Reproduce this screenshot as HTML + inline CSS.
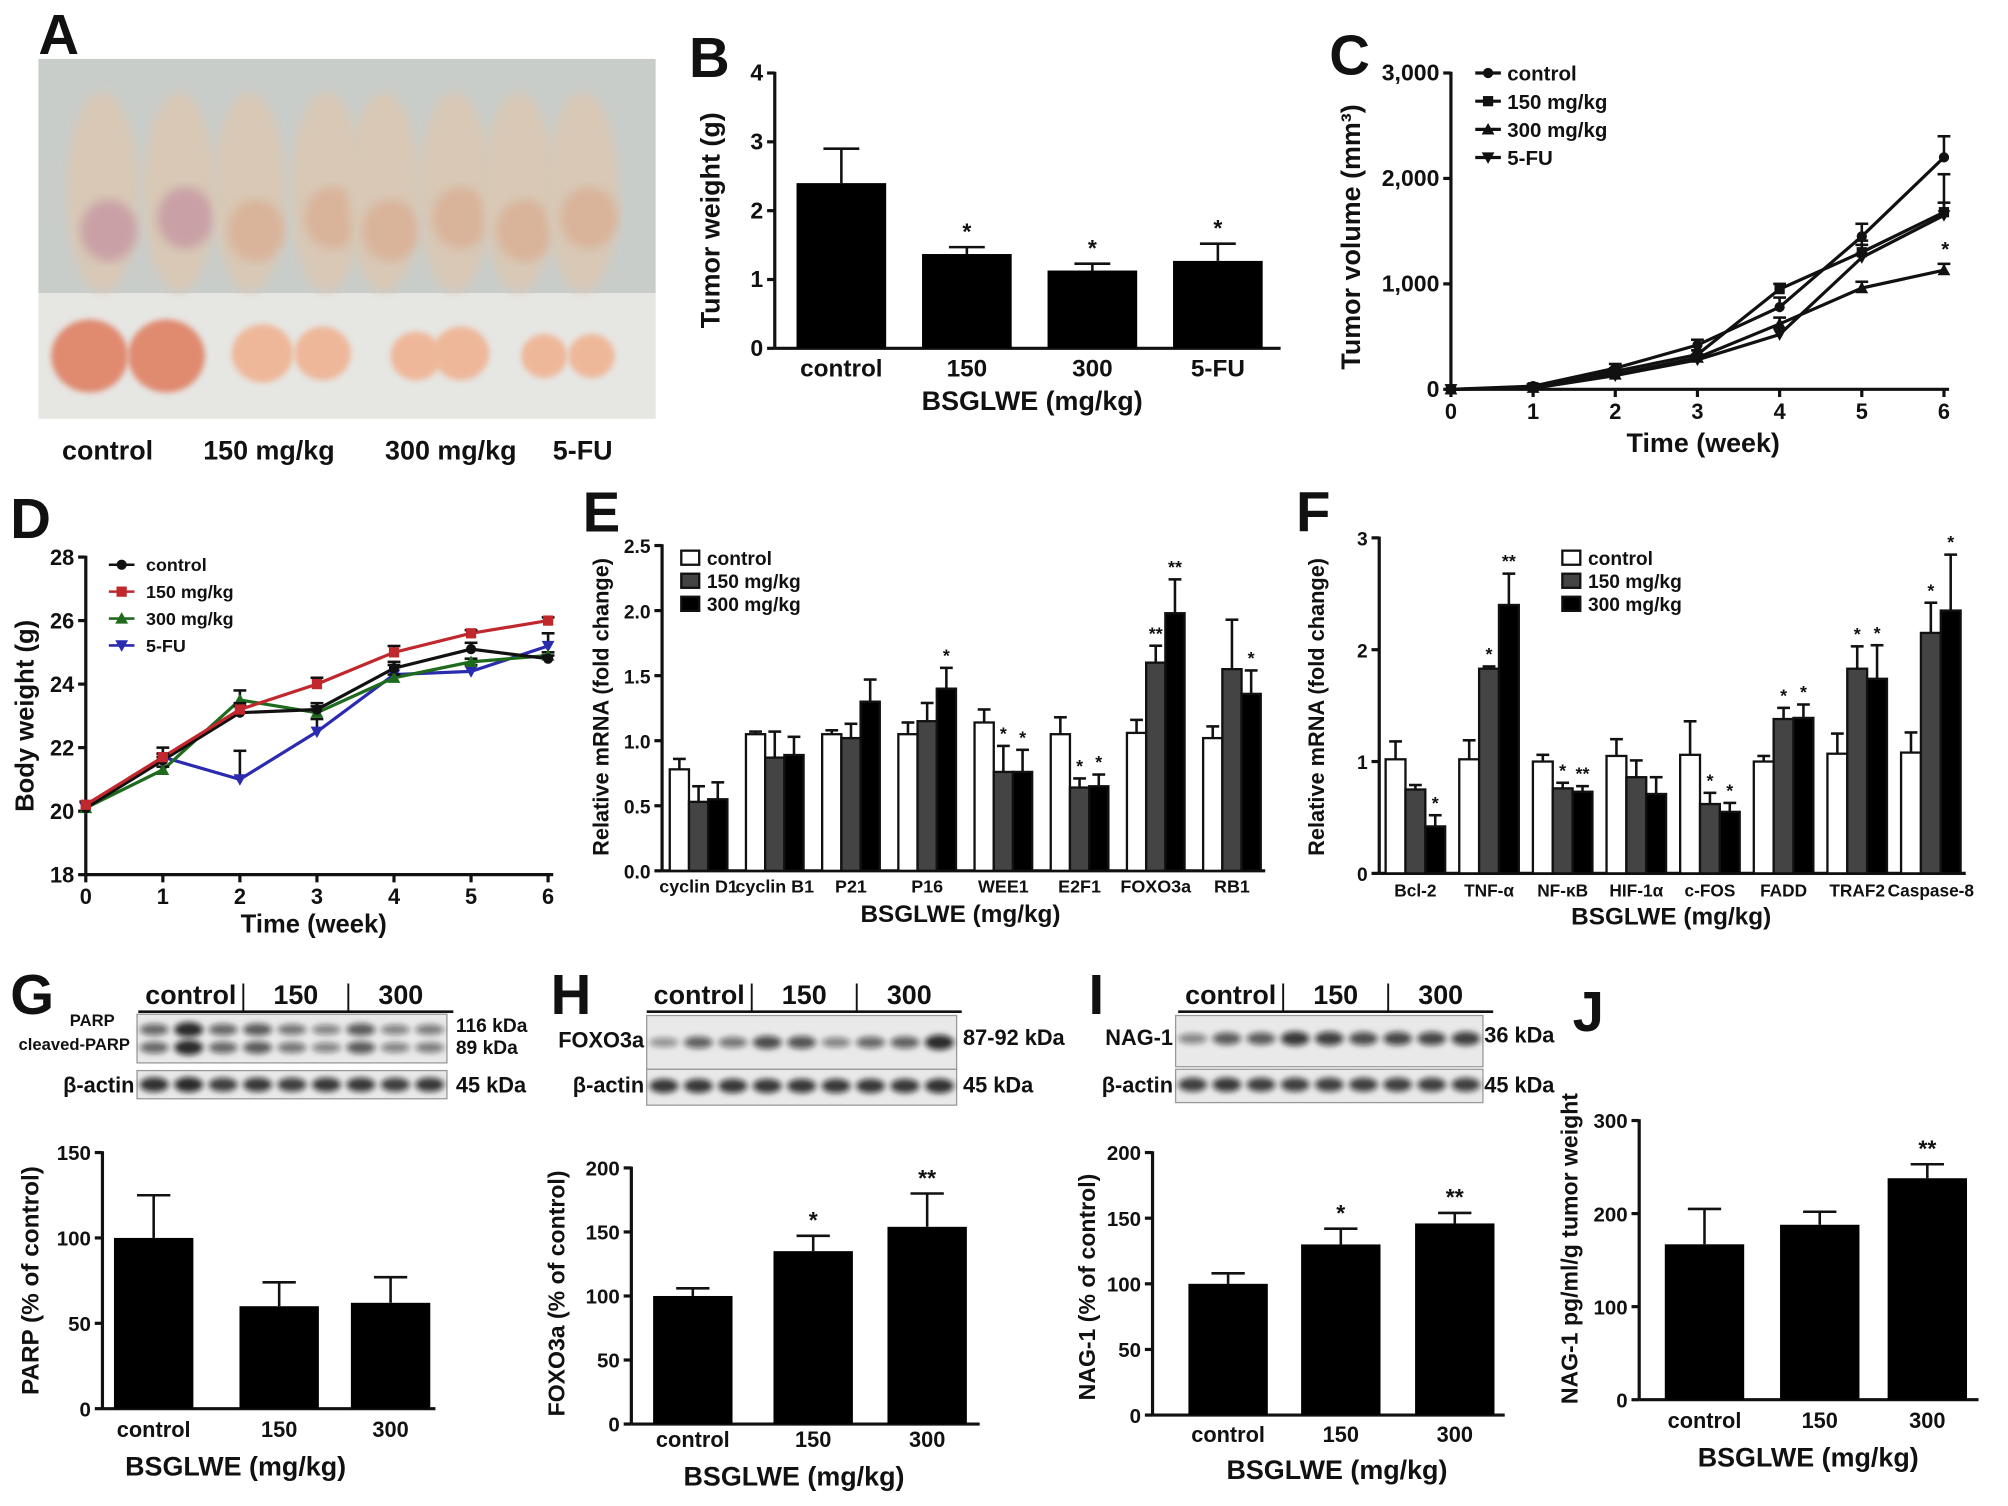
<!DOCTYPE html>
<html><head><meta charset="utf-8"><style>
html,body{margin:0;padding:0;background:#fff;}
svg{display:block;}
text{font-family:"Liberation Sans",Arial,sans-serif;font-weight:bold;fill:#111;}
</style></head><body>
<svg id="fig" xmlns="http://www.w3.org/2000/svg" width="2008" height="1506" viewBox="0 0 1568 1176">
<defs><filter id="blur" x="-50%" y="-50%" width="200%" height="200%"><feGaussianBlur stdDeviation="2.2"/></filter>
<filter id="blur2"><feGaussianBlur stdDeviation="4"/></filter></defs>
</svg>
<script>
// ---------- data ----------
const bCats=['control','150','300','5-FU'];
const bVals=[2.4,1.37,1.13,1.27];
const bErr=[0.5,0.1,0.1,0.25];
const bSig=['','*','*','*'];
const cWeeks=[0,1,2,3,4,5,6];
const cControl=[0,30,200,420,780,1450,2200];
const c150=[0,20,170,330,950,1300,1680];
const c300=[0,15,140,300,620,960,1130];
const c5fu=[0,10,130,280,520,1250,1650];
const cErrCtrl=[0,20,40,50,90,120,200];
const cErr150=[0,15,30,40,50,110,360];
const cErr300=[0,10,30,30,60,60,60];
const cErr5fu=[0,10,20,30,60,120,120];
const dWeeks=[0,1,2,3,4,5,6];
const dControl=[20.1,21.6,23.1,23.2,24.5,25.1,24.8];
const d150=[20.2,21.7,23.2,24.0,25.0,25.6,26.0];
const d300=[20.1,21.3,23.5,23.1,24.2,24.7,24.9];
const d5fu=[20.1,21.7,21.0,22.5,24.3,24.4,25.2];
const dErr5fu=[0.2,0.3,0.9,0.4,0.3,0.2,0.4];
const eGenes=['cyclin D1','cyclin B1','P21','P16','WEE1','E2F1','FOXO3a','RB1'];
const eCtrl=[0.78,1.05,1.05,1.05,1.14,1.05,1.06,1.02];
const e150=[0.53,0.87,1.02,1.15,0.76,0.64,1.6,1.55];
const e300=[0.55,0.89,1.3,1.4,0.76,0.65,1.98,1.36];
const eErrCtrl=[0.08,0.02,0.03,0.09,0.1,0.13,0.1,0.09];
const eErr150=[0.12,0.2,0.11,0.14,0.2,0.07,0.13,0.38];
const eErr300=[0.13,0.14,0.17,0.16,0.17,0.09,0.26,0.18];
const eSig150=['','','','','*','*','**',''];
const eSig300=['','','','*','*','*','**','*'];
const fGenes=['Bcl-2','TNF-α','NF-κB','HIF-1α','c-FOS','FADD','TRAF2','Caspase-8'];
const fCtrl=[1.02,1.02,1.0,1.05,1.06,1.0,1.07,1.08];
const f150=[0.75,1.83,0.76,0.86,0.62,1.38,1.83,2.15];
const f300=[0.42,2.4,0.73,0.71,0.55,1.39,1.74,2.35];
const fErrCtrl=[0.16,0.17,0.06,0.15,0.3,0.05,0.18,0.18];
const fErr150=[0.04,0.02,0.05,0.15,0.1,0.1,0.2,0.27];
const fErr300=[0.1,0.28,0.05,0.15,0.08,0.12,0.3,0.5];
const fSig150=['','*','*','','*','*','*','*'];
const fSig300=['*','**','**','','*','*','*','*'];
const gCats=['control','150','300'];
const gVals=[100,60,62];
const gErr=[25,14,15];
const hVals=[100,135,154];
const hErr=[6,12,26];
const hSig=['','*','**'];
const iVals=[100,130,146];
const iErr=[8,12,8];
const iSig=['','*','**'];
const jVals=[167,188,238];
const jErr=[38,14,15];
const jSig=['','','**'];

// ---------- helpers ----------
const NS='http://www.w3.org/2000/svg';
const svg=document.getElementById('fig');
function mk(tag,a,parent){const e=document.createElementNS(NS,tag);for(const k in a)e.setAttribute(k,a[k]);(parent||svg).appendChild(e);return e;}
function T(x,y,s,size,anchor,extra){const e=mk('text',Object.assign({x:x,y:y,'font-size':size,'text-anchor':anchor||'middle'},extra||{}));e.textContent=s;return e;}
function group(name){const g=mk('g',{});return g;}
function lin(v0,v1,p0,p1){return v=>p0+(v-v0)*(p1-p0)/(v1-v0);}
function line(x1,y1,x2,y2,w,parent){return mk('line',{x1:x1,y1:y1,x2:x2,y2:y2,stroke:'#111','stroke-width':w||2.5},parent);}

function yAxis(g,x,sy,ticks,fmt,size){
  const l=line(x,sy(ticks[0]),x,sy(ticks[ticks.length-1])-1,2.5,g);
  
  ticks.forEach(t=>{line(x-6,sy(t),x,sy(t),2.5,g);
    const tl=T(x-9,sy(t)+6,fmt(t),size||17,'end');
    });
}
function ytitle(x,y,s,size){const e=T(x,y,s,size||21,'middle',{transform:'rotate(-90 '+x+' '+y+')'});return e;}
function letter(x,y,s){const e=T(x,y,s,44,'start');return e;}
function errBar(g,x,y,len,w){line(x,y,x,y-len,2,g);line(x-w,y-len,x+w,y-len,2,g);}

// ---------- Panel A ----------
letter(30,42,'A');
(function(){
 const g=group('tumor-photo');
 mk('rect',{x:30,y:46,width:482,height:183,fill:'#c9cdca'},g);
 mk('rect',{x:30,y:229,width:482,height:98,fill:'#e6e6e3'},g);
 const mx=[80,140,195,255,300,355,405,455];
 mx.forEach((x,i)=>{mk('ellipse',{cx:x,cy:150,rx:28,ry:78,fill:'#d8c8b5',filter:'url(#blur2)'},g);
   mk('ellipse',{cx:x+5,cy:150+(i%2?20:30),rx:22,ry:24,fill:i<2?'#c9a0a6':'#d9b39a',filter:'url(#blur2)'},g);});
 [[70,278,30],[130,278,30],[205,276,24],[252,276,22],[325,278,20],[360,276,22],[425,278,18],[462,278,18]].forEach((t,i)=>{
   mk('ellipse',{cx:t[0],cy:t[1],rx:t[2],ry:t[2]*0.95,fill:i<2?'#e08a70':'#eeb79a',filter:'url(#blur)'},g);});
 [['control',84],['150 mg/kg',210],['300 mg/kg',352],['5-FU',455]].forEach(c=>{const e=T(c[1],359,c[0],21);});
})();

// ---------- Panel B ----------
letter(538,60,'B');
(function(){
 const g=group('chart-b');
 const sy=lin(0,4,272,57); const x0=605;
 yAxis(g,x0,sy,[0,1,2,3,4],v=>String(v),18);
 line(x0,272,1000,272,2.5,g);
 bCats.forEach((c,i)=>{const cx=657+i*98;
   errBar(g,cx,sy(bVals[i]),sy(0)-sy(bErr[i]),14);
   const r=mk('rect',{x:cx-35,y:sy(bVals[i]),width:70,height:sy(0)-sy(bVals[i]),fill:'#000'},g);
   
   if(bSig[i]){const s=T(cx,sy(bVals[i]+bErr[i])-6,bSig[i],18);}
   const l=T(cx,294,c,19);});
 const xt=T(806,320,'BSGLWE (mg/kg)',21);
 ytitle(562,172,'Tumor weight (g)');
})();

// ---------- Panel C ----------
letter(1038,58,'C');
function marker(g,type,x,y,color){
  color=color||'#111';
  let e;
  if(type==='circle')e=mk('circle',{cx:x,cy:y,r:4,fill:color},g);
  else if(type==='square')e=mk('rect',{x:x-4,y:y-4,width:8,height:8,fill:color},g);
  else if(type==='tri')e=mk('polygon',{points:`${x},${y-5} ${x-5},${y+4} ${x+5},${y+4}`,fill:color},g);
  else e=mk('polygon',{points:`${x},${y+5} ${x-5},${y-4} ${x+5},${y-4}`,fill:color},g);
  
}
function series(g,xs,ys,sx,sy,type,color,name,errs){
  const pts=xs.map((x,i)=>sx(x)+','+sy(ys[i])).join(' ');
  const p=mk('polyline',{points:pts,fill:'none',stroke:color,'stroke-width':2.5},g);
  
  xs.forEach((x,i)=>{ if(errs&&errs[i])errBar(g,sx(x),sy(ys[i]),sy(0)-sy(errs[i]),5); marker(g,type,sx(x),sy(ys[i]),color);});
}
(function(){
 const g=group('chart-c');
 const sx=lin(0,6,1133,1518), sy=lin(0,3000,304,57);
 yAxis(g,1133,sy,[0,1000,2000,3000],v=>v.toLocaleString('en-US'),18);
 line(1133,304,1522,304,2.5,g);
 cWeeks.forEach(w=>{line(sx(w),304,sx(w),310,2.5,g);const l=T(sx(w),327,String(w),17);});
 series(g,cWeeks,cControl,sx,sy,'circle','#111','line-control',cErrCtrl);
 series(g,cWeeks,c150,sx,sy,'square','#111','line-150',cErr150);
 series(g,cWeeks,c300,sx,sy,'tri','#111','line-300',cErr300);
 series(g,cWeeks,c5fu,sx,sy,'down','#111','line-5fu',cErr5fu);
 const s=T(1519,sy(1130+60)-6,'*',16);
 const xt=T(1330,353,'Time (week)',21);
 ytitle(1062,185,'Tumor volume (mm³)');
 [['control','circle'],['150 mg/kg','square'],['300 mg/kg','tri'],['5-FU','down']].forEach((l,i)=>{
  const lg=group('legend-entry');const y=57+i*22;
  line(1152,y,1172,y,2.5,lg);marker(lg,l[1],1162,y);
  const t=T(1177,y+6,l[0],16,'start');lg.appendChild(t);});
})();

// ---------- Panel D ----------
letter(8,420,'D');
(function(){
 const g=group('chart-d');
 const sx=lin(0,6,67,428), sy=lin(18,28,683,435);
 yAxis(g,67,sy,[18,20,22,24,26,28],v=>String(v),17);
 line(67,683,432,683,2.5,g);
 dWeeks.forEach(w=>{line(sx(w),683,sx(w),689,2.5,g);const l=T(sx(w),706,String(w),17);});
 series(g,dWeeks,d5fu,sx,sy,'down','#2b2bb0','line-5fu',dErr5fu);
 series(g,dWeeks,d300,sx,sy,'tri','#1e6b1e','line-300',[0,0.1,0.3,0.2,0.1,0.1,0.1]);
 series(g,dWeeks,dControl,sx,sy,'circle','#111','line-control',[0,0.1,0.2,0.2,0.2,0.2,0.1]);
 series(g,dWeeks,d150,sx,sy,'square','#c0282d','line-150',[0,0.1,0.2,0.2,0.2,0.1,0.1]);
 const xt=T(245,728,'Time (week)',20);
 ytitle(26,559,'Body weight (g)',20);
 [['control','circle','#111'],['150 mg/kg','square','#c0282d'],['300 mg/kg','tri','#1e6b1e'],['5-FU','down','#2b2bb0']].forEach((l,i)=>{
  const lg=group('legend-entry');const y=441+i*21;
  const ln=line(85,y,105,y,2,lg);ln.setAttribute('stroke',l[2]);marker(lg,l[1],95,y,l[2]);
  const t=T(114,y+5,l[0],14,'start',{'font-weight':'normal'});lg.appendChild(t);});
})();

// ---------- grouped bar helper ----------
function grouped(g,prefix,genes,series3,errs3,sigs,sy,x0,step,bw,labelY,lsize){
  const fills=['#fff','#444','#000'];
  genes.forEach((gn,i)=>{const gx=x0+i*step;
   series3.forEach((arr,k)=>{const x=gx+k*bw; const cx=x+bw/2;
     errBar(g,cx,sy(arr[i]),sy(0)-sy(errs3[k][i]),5);
     const r=mk('rect',{x:x,y:sy(arr[i]),width:bw,height:sy(0)-sy(arr[i]),fill:fills[k],stroke:'#111','stroke-width':1.8},g);
     
     const sg=k===1?sigs[0][i]:k===2?sigs[1][i]:'';
     if(sg){const s=T(cx,sy(arr[i]+errs3[k][i])-5,sg,14);}
   });
   const l=T(gx+bw*1.5,labelY,gn,lsize);
  });
}
function legend3(x,y,dy,size){
  [['control','#fff'],['150 mg/kg','#444'],['300 mg/kg','#000']].forEach((l,i)=>{
   const lg=group('legend-entry');
   mk('rect',{x:x,y:y+i*dy-6,width:14,height:11,fill:l[1],stroke:'#111','stroke-width':1.8},lg);
   const t=T(x+20,y+i*dy+5,l[0],size,'start');lg.appendChild(t);});
}

// ---------- Panel E ----------
letter(455,415,'E');
(function(){
 const g=group('chart-e');
 const sy=lin(0,2.5,680,426);
 yAxis(g,517,sy,[0,0.5,1,1.5,2,2.5],v=>v.toFixed(1),15);
 line(517,680,988,680,2.5,g);
 grouped(g,'e',eGenes,[eCtrl,e150,e300],[eErrCtrl,eErr150,eErr300],[eSig150,eSig300],sy,523,59.5,15,697,14);
 legend3(532,436,18,15);
 const xt=T(750,720,'BSGLWE (mg/kg)',19);
 ytitle(475,552,'Relative mRNA (fold change)',17);
})();

// ---------- Panel F ----------
letter(1012,415,'F');
(function(){
 const g=group('chart-f');
 const sy=lin(0,3,682,420);
 yAxis(g,1077,sy,[0,1,2,3],v=>String(v),15);
 line(1077,682,1535,682,2.5,g);
 grouped(g,'f',fGenes,[fCtrl,f150,f300],[fErrCtrl,fErr150,fErr300],[fSig150,fSig300],sy,1082,57.5,15.5,700,13.5);
 legend3(1220,436,18,15);
 const xt=T(1305,722,'BSGLWE (mg/kg)',19);
 ytitle(1034,552,'Relative mRNA (fold change)',17);
})();

// ---------- blots ----------
function blotHeader(x,w,y){
 const g=group('blot-header');
 line(x,y,x+w,y,2,g);
 const third=w/3;
 line(x+third,y-22,x+third,y,1.5,g);line(x+2*third,y-22,x+2*third,y,1.5,g);
 [['control',0],['150',1],['300',2]].forEach(c=>{const t=T(x+third*c[1]+third/2,y-6,c[0],21);g.appendChild(t);});
}
function blot(name,x,y,w,h,intens,bandY){
 const g=group(name);
 mk('rect',{x:x,y:y,width:w,height:h,fill:'#e9e9e9',stroke:'#999','stroke-width':1},g);
 const lw=w/9;
 intens.forEach((v,i)=>{bandY.forEach(by=>{
   const b=mk('ellipse',{cx:x+lw*(i+0.5),cy:y+by,rx:lw*0.42,ry:3+v*3,fill:'#111','fill-opacity':0.3+v*0.6,filter:'url(#blur)'},g);
   });});
}
// G
letter(8,792,'G');
blotHeader(108,246,790);
blot('blot-parp',107,792,242,38,[0.5,0.95,0.5,0.6,0.4,0.3,0.6,0.3,0.35],[12,26]);
blot('blot-actin-g',107,836,242,22,[0.9,0.95,0.8,0.85,0.8,0.85,0.85,0.8,0.85],[11]);
T(72,801,'PARP',13);T(58,820,'cleaved-PARP',13);
T(356,806,'116 kDa',15,'start');T(356,823,'89 kDa',15,'start');
T(105,853,'β-actin',17,'end');T(356,853,'45 kDa',17,'start');
// H
letter(430,792,'H');
blotHeader(505,246,790);
blot('blot-foxo3a',505,793,242,42,[0.2,0.55,0.4,0.7,0.65,0.3,0.5,0.55,0.95],[21]);
blot('blot-actin-h',505,835,242,28,[0.85,0.85,0.85,0.85,0.85,0.85,0.85,0.85,0.9],[13]);
T(503,818,'FOXO3a',17,'end');T(752,816,'87-92 kDa',17,'start');
T(503,853,'β-actin',17,'end');T(752,853,'45 kDa',17,'start');
// I
letter(850,792,'I');
blotHeader(920,246,790);
blot('blot-nag1',918,793,240,40,[0.3,0.6,0.6,0.85,0.8,0.7,0.75,0.75,0.8],[18]);
blot('blot-actin-i',918,835,240,26,[0.8,0.85,0.8,0.8,0.8,0.8,0.8,0.8,0.8],[12]);
T(916,816,'NAG-1',17,'end');T(1159,814,'36 kDa',17,'start');
T(916,853,'β-actin',17,'end');T(1159,853,'45 kDa',17,'start');
letter(1228,805,'J');

// ---------- simple bar charts G-J ----------
function simpleBars(name,x0,xEnd,sy,ticks,vals,errs,sigs,centers,labelY,titleX,titleY,yt,ytx,yty,tsize){
 const g=group(name);
 yAxis(g,x0,sy,ticks,v=>String(v),16);
 line(x0,sy(0),xEnd,sy(0),2.5,g);
 gCats.forEach((c,i)=>{const cx=centers[i];
  errBar(g,cx,sy(vals[i]),sy(0)-sy(errs[i]),13);
  const r=mk('rect',{x:cx-31,y:sy(vals[i]),width:62,height:sy(0)-sy(vals[i]),fill:'#000'},g);
  
  if(sigs&&sigs[i]){const s=T(cx,sy(vals[i]+errs[i])-6,sigs[i],18);}
  const l=T(cx,labelY,c,17);});
 const xt=T(titleX,titleY,'BSGLWE (mg/kg)',21);
 ytitle(ytx,yty,yt,tsize||19);
}
simpleBars('chart-g',80,340,lin(0,150,1100,900),[0,50,100,150],gVals,gErr,null,[120,218,305],1122,184,1152,'PARP (% of control)',30,1000);
simpleBars('chart-h',493,765,lin(0,200,1112,912),[0,50,100,150,200],hVals,hErr,hSig,[541,635,724],1130,620,1160,'FOXO3a (% of control)',441,1010,18);
simpleBars('chart-i',900,1175,lin(0,200,1105,900),[0,50,100,150,200],iVals,iErr,iSig,[959,1047,1136],1126,1044,1155,'NAG-1 (% of control)',855,1005,18);
simpleBars('chart-j',1280,1545,lin(0,300,1093,875),[0,100,200,300],jVals,jErr,jSig,[1331,1421,1505],1115,1412,1145,'NAG-1 pg/ml/g tumor weight',1232,975,18);
</script>
</body></html>
